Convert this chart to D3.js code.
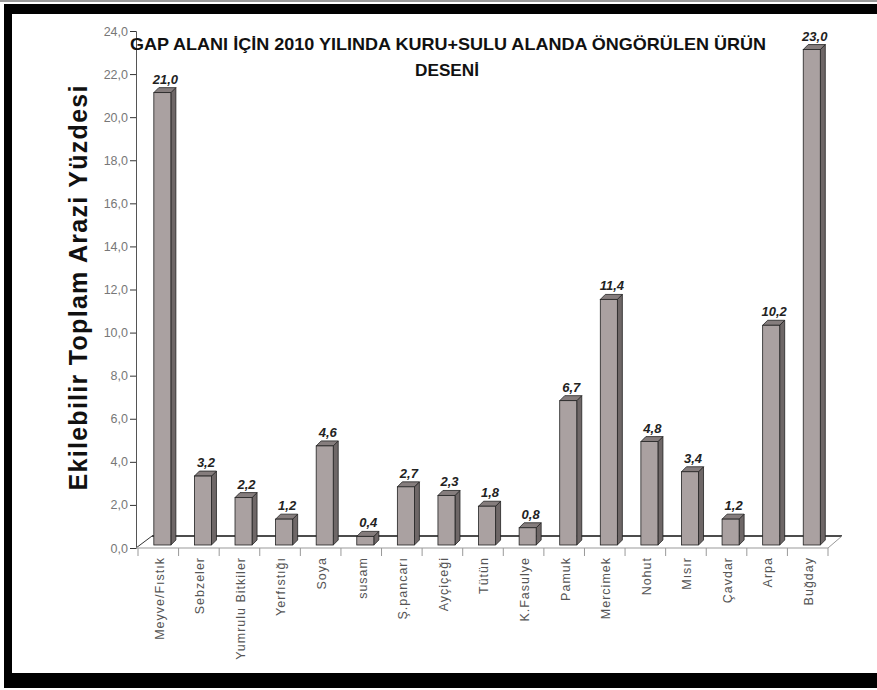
<!DOCTYPE html>
<html>
<head>
<meta charset="utf-8">
<script src="https://cdn.jsdelivr.net/npm/d3@7"></script>
<style>
  body { margin: 0; background: #fff; }
  svg { display: block; font-family: "Liberation Sans", Arial, sans-serif; }
</style>
</head>
<body>
<div id="chart"></div>
<script>
// Chart data
const crops = ["Meyve/Fıstık", "Sebzeler", "Yumrulu Bitkiler", "Yerfıstığı", "Soya", "susam",
    "Ş.pancarı", "Ayçiçeği", "Tütün", "K.Fasulye", "Pamuk", "Mercimek", "Nohut", "Mısır",
    "Çavdar", "Arpa", "Buğday"];
const shares = [21.0, 3.2, 2.2, 1.2, 4.6, 0.4, 2.7, 2.3, 1.8, 0.8, 6.7, 11.4, 4.8, 3.4, 1.2, 10.2, 23.0];
const yTicks = [0, 2, 4, 6, 8, 10, 12, 14, 16, 18, 20, 22, 24];

const titleLines = ["GAP ALANI İÇİN 2010 YILINDA KURU+SULU ALANDA ÖNGÖRÜLEN ÜRÜN", "DESENİ"];
const yTitle = "Ekilebilir Toplam Arazi Yüzdesi";

// SVG variables
const width = 877;
const height = 690;
const floorDx = 14, floorDy = -12;   // depth of the floor
const barDx = 5, barDy = -5;         // depth of each bar
const comma = d => d3.format(".1f")(d).replace(".", ",");

const svg = d3.select("#chart")
    .append("svg")
    .attr("width", width)
    .attr("height", height);

// black frame
svg.append("rect").attr("x", 0).attr("y", 0).attr("width", width).attr("height", 2).attr("fill", "#999");
svg.append("rect").attr("x", 4).attr("y", 4).attr("width", width - 4).attr("height", 10).attr("fill", "#000");
svg.append("rect").attr("x", 4).attr("y", 4).attr("width", 8).attr("height", height - 6).attr("fill", "#000");
svg.append("rect").attr("x", 4).attr("y", 673).attr("width", width - 4).attr("height", 15).attr("fill", "#000");

const x = d3.scaleBand()
    .domain(crops)
    .range([138, 828]);

const y = d3.scaleLinear()
    .domain([0, 24])
    .range([548, 31]);

const bw = x.bandwidth();
const x0 = x.range()[0], x1 = x.range()[1];
const y0 = y(0);

// floor
svg.append("line")
    .attr("x1", x0 + floorDx).attr("y1", y0 + floorDy)
    .attr("x2", x1 + floorDx).attr("y2", y0 + floorDy)
    .attr("stroke", "#111").attr("stroke-width", 1.5);
svg.append("line")
    .attr("x1", x0 - 2).attr("y1", y0)
    .attr("x2", x0 + floorDx).attr("y2", y0 + floorDy)
    .attr("stroke", "#333");
svg.append("line")
    .attr("x1", x1).attr("y1", y0)
    .attr("x2", x1 + floorDx).attr("y2", y0 + floorDy)
    .attr("stroke", "#999");

// y axis
const yAxis = svg.append("g")
    .attr("transform", `translate(${x0 - 2},0)`)
    .call(d3.axisLeft(y).tickValues(yTicks).tickFormat(comma).tickSize(6).tickPadding(2));
yAxis.select(".domain").attr("stroke", "#555");
yAxis.selectAll(".tick line").attr("stroke", "#333");
yAxis.selectAll(".tick text")
    .attr("fill", "#777")
    .style("font-size", "12.5px")
    .style("font-family", "'Liberation Sans', Arial, sans-serif");

// x axis
const xAxis = svg.append("g");
xAxis.append("line")
    .attr("x1", x0 - 2).attr("y1", y0).attr("x2", x1).attr("y2", y0)
    .attr("stroke", "#999");
xAxis.selectAll(".xtick")
    .data(crops.concat([null]))
    .join("line")
    .attr("class", "xtick")
    .attr("x1", (d, i) => x0 + i * bw).attr("x2", (d, i) => x0 + i * bw)
    .attr("y1", y0).attr("y2", y0 + 8)
    .attr("stroke", "#999");
xAxis.selectAll(".xlabel")
    .data(crops)
    .join("text")
    .attr("class", "xlabel")
    .attr("transform", d => `translate(${x(d) + bw / 2 + 1},${y0 + 9}) rotate(-90)`)
    .attr("text-anchor", "end")
    .attr("dy", "0.35em")
    .attr("fill", "#555")
    .style("font-size", "12.5px")
    .style("letter-spacing", "1px")
    .text(d => d);

// bars
const bars = svg.append("g")
    .selectAll("g")
    .data(crops.map((c, i) => ({ crop: c, value: shares[i] })))
    .join("g");

const fx = d => x(d.crop) + bw * 0.39;
const fw = bw * 0.42;
const ft = d => y(d.value) - 3;
const fb = y0 - 3;

bars.append("path")
    .attr("d", d => `M${fx(d) + fw},${ft(d)} l${barDx},${barDy} L${fx(d) + fw + barDx},${fb + barDy} L${fx(d) + fw},${fb} Z`)
    .attr("fill", "#6e6767")
    .attr("stroke", "#222")
    .attr("stroke-width", 0.8);

bars.append("path")
    .attr("d", d => `M${fx(d)},${ft(d)} l${barDx},${barDy} h${fw} l${-barDx},${-barDy} Z`)
    .attr("fill", "#857d7d")
    .attr("stroke", "#222")
    .attr("stroke-width", 0.8);

bars.append("rect")
    .attr("x", fx)
    .attr("y", ft)
    .attr("width", fw)
    .attr("height", d => fb - ft(d))
    .attr("fill", "#aaa1a1")
    .attr("stroke", "#222")
    .attr("stroke-width", 0.8);

bars.append("text")
    .attr("x", d => fx(d) + fw / 2 + 3)
    .attr("y", d => ft(d) + barDy - 4)
    .attr("text-anchor", "middle")
    .attr("fill", "#222")
    .style("font-size", "13px")
    .style("font-weight", "bold")
    .style("font-style", "italic")
    .text(d => comma(d.value));

// titles
svg.append("text")
    .attr("x", 448).attr("y", 50)
    .attr("text-anchor", "middle")
    .attr("textLength", 636)
    .attr("lengthAdjust", "spacingAndGlyphs")
    .attr("fill", "#111")
    .style("font-size", "17px")
    .style("font-weight", "bold")
    .text(titleLines[0]);
svg.append("text")
    .attr("x", 447).attr("y", 76)
    .attr("text-anchor", "middle")
    .attr("textLength", 64)
    .attr("lengthAdjust", "spacingAndGlyphs")
    .attr("fill", "#111")
    .style("font-size", "17px")
    .style("font-weight", "bold")
    .text(titleLines[1]);

svg.append("text")
    .attr("transform", "translate(87,288) rotate(-90)")
    .attr("text-anchor", "middle")
    .attr("textLength", 405)
    .attr("lengthAdjust", "spacing")
    .attr("fill", "#111")
    .style("font-size", "25px")
    .style("font-weight", "bold")
    .text(yTitle);
</script>
</body>
</html>
